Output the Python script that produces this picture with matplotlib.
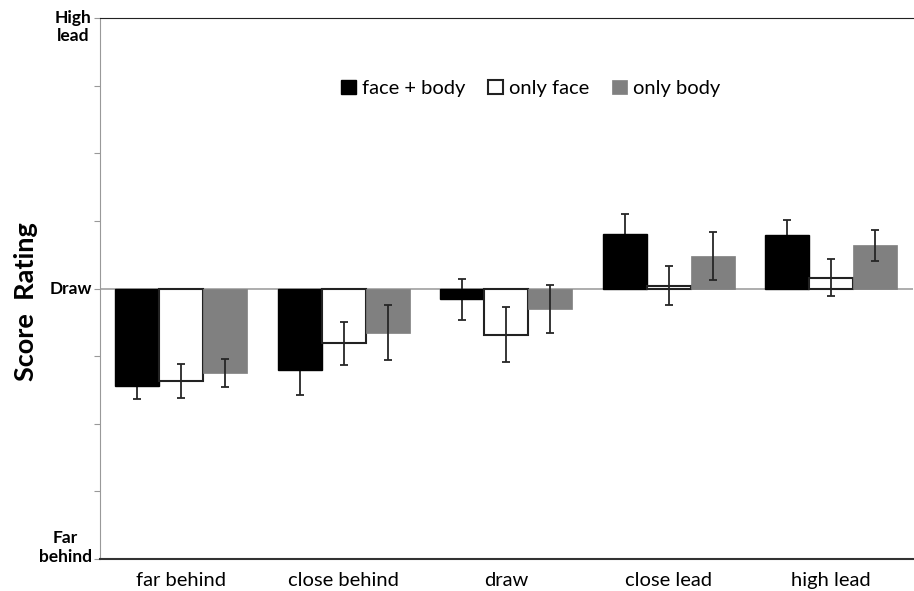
import numpy as np
import matplotlib
matplotlib.use("Agg")
import matplotlib.pyplot as plt

plt.rcParams['font.family'] = ['Lato', 'DejaVu Sans']

# data (score scale: -4 = far behind, 0 = draw, 4 = high lead)
situations = ["far behind", "close behind", "draw", "close lead", "high lead"]
series = ["face + body", "only face", "only body"]
face_body = [-1.44, -1.21, -0.16, 0.81, 0.79]
only_face = [-1.37, -0.81, -0.68, 0.04, 0.16]
only_body = [-1.25, -0.65, -0.30, 0.48, 0.64]
err_face_body = [0.19, 0.37, 0.30, 0.29, 0.22]
err_only_face = [0.25, 0.32, 0.41, 0.29, 0.27]
err_only_body = [0.21, 0.40, 0.35, 0.36, 0.23]

fig = plt.figure(figsize=(9.14, 5.91), dpi=100)
ax = fig.add_axes([0.1094, 0.054, 0.889, 0.9155])

x = np.arange(len(situations))
w = 0.27
ekw = dict(ecolor="#262626", elinewidth=1.3, capsize=3, capthick=1.3)

# error bars of the black series sit behind the bars (hidden inside black)
ax.errorbar(x - w, face_body, yerr=err_face_body, fmt="none", zorder=1.5, **ekw)
ax.bar(x - w, face_body, w, color="black", edgecolor="black", linewidth=1,
       label=series[0], zorder=2)
ax.bar(x, only_face, w, color="white", edgecolor="#222222", linewidth=1.5,
       yerr=err_only_face, error_kw=ekw, label=series[1], zorder=2)
ax.bar(x + w, only_body, w, color="#808080", edgecolor="#808080", linewidth=0.5,
       yerr=err_only_body, error_kw=ekw, label=series[2], zorder=2)

ax.axhline(0, color="#a0a0a0", linewidth=1.2, zorder=1)

ax.set_xlim(-0.5, 4.5)
ax.set_ylim(-4, 4)
ax.set_xticks(x)
ax.set_xticklabels(situations, fontsize=14.5)
ax.tick_params(axis="x", length=0, pad=9)
ax.set_yticks(np.arange(-4, 5))
ax.set_yticklabels([])
ax.tick_params(axis="y", length=4, color="#999999", direction="out")

ax.spines["right"].set_visible(False)
ax.spines["left"].set_color("#999999")
ax.spines["top"].set_color("#222222")
ax.spines["bottom"].set_color("#333333")
ax.spines["bottom"].set_linewidth(1.5)

lab_kw = dict(transform=ax.get_yaxis_transform(), ha="right", va="center",
              multialignment="center", fontsize=12.5, fontweight="bold")
ax.text(-0.01, 3.87, "High\nlead", **lab_kw)
ax.text(-0.01, 0, "Draw", **lab_kw)
ax.text(-0.01, -3.83, "Far\nbehind", **lab_kw)

fig.text(0.028, 0.49, "Score  Rating", rotation=90, ha="center", va="center",
         fontsize=19.5, fontweight="bold")

ax.legend(loc="center", bbox_to_anchor=(0.53, 0.87), ncol=3, frameon=False,
          fontsize=14.5, handlelength=0.75, handleheight=0.75, handletextpad=0.3,
          columnspacing=1.1)

fig.savefig("out.png", dpi=100)
